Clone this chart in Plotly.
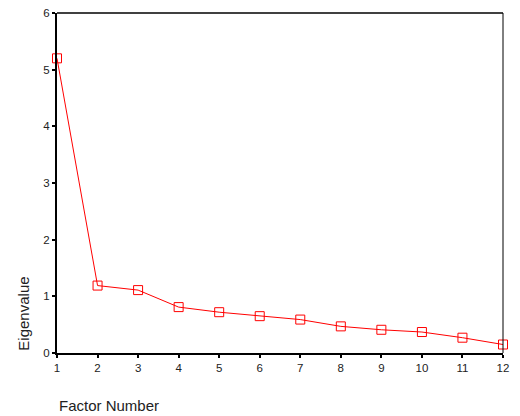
import plotly.graph_objects as go

factors = [1, 2, 3, 4, 5, 6, 7, 8, 9, 10, 11, 12]
eigenvalues = [5.20, 1.19, 1.11, 0.81, 0.72, 0.65, 0.59, 0.47, 0.41, 0.37, 0.27, 0.15]
x_ticks = list(range(1, 13))
y_ticks = [0, 1, 2, 3, 4, 5, 6]

fig = go.Figure()
fig.add_trace(go.Scatter(
    x=factors, y=eigenvalues, mode="lines+markers",
    line=dict(color="#ff0000", width=1),
    marker=dict(symbol="square-open", size=9, color="#ff0000", line=dict(width=1, color="#ff0000")),
    cliponaxis=False, showlegend=False, hoverinfo="skip",
))

font = dict(family="Liberation Sans, Arial, sans-serif", color="#222222")
fig.update_layout(
    width=520, height=416, autosize=False,
    margin=dict(l=57, r=17, t=13, b=63, pad=0),
    paper_bgcolor="white", plot_bgcolor="white",
    font=font,
    xaxis=dict(range=[1, 12], tickvals=x_ticks, showgrid=False, zeroline=False,
               automargin=False,
               showline=True, linecolor="black", linewidth=2,
               ticks="outside", ticklen=3, tickwidth=2, tickcolor="black",
               tickfont=dict(size=11.5, family=font["family"], color="#222222")),
    yaxis=dict(range=[0, 6], tickvals=y_ticks, showgrid=False, zeroline=False,
               automargin=False,
               showline=True, linecolor="black", linewidth=2,
               ticks="outside", ticklen=3, tickwidth=2, tickcolor="black",
               tickfont=dict(size=11.5, family=font["family"], color="#222222")),
    shapes=[
        dict(type="line", xref="paper", yref="paper", x0=0, x1=1, y0=1, y1=1,
             line=dict(color="black", width=1.5)),
        dict(type="line", xref="paper", yref="paper", x0=1, x1=1, y0=0, y1=1,
             line=dict(color="black", width=1)),
    ],
    annotations=[
        dict(text="Factor Number", xref="paper", yref="paper", x=0, y=-0.153,
             xanchor="left", yanchor="middle", showarrow=False,
             font=dict(size=15, family=font["family"], color="#222222")),
        dict(text="Eigenvalue", xref="paper", yref="paper", x=-0.077, y=0,
             xanchor="center", yanchor="bottom", textangle=-90, showarrow=False,
             font=dict(size=15, family=font["family"], color="#222222")),
    ],
)

fig.write_html("out.html", config={"displayModeBar": False})
with open("out.html", "r", encoding="utf-8") as f:
    html = f.read()
html = html.replace("<body>", '<body style="margin:0;padding:0;overflow:hidden">', 1)
with open("out.html", "w", encoding="utf-8") as f:
    f.write(html)
